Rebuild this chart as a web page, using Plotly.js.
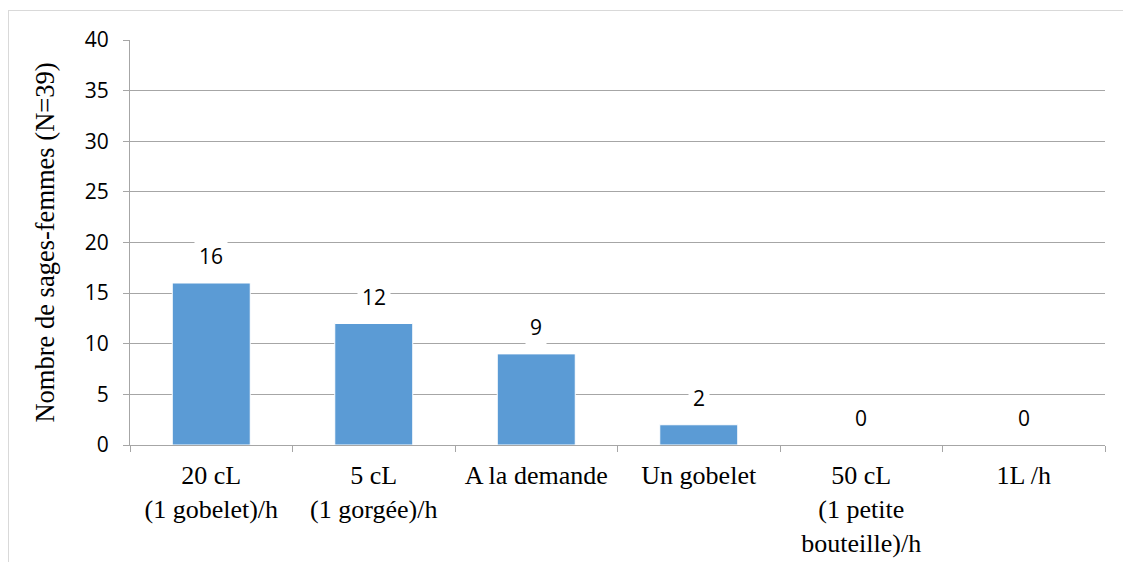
<!DOCTYPE html>
<html>
<head>
<meta charset="utf-8">
<script src="https://cdn.plot.ly/plotly-3.0.1.min.js"></script>
<style>
html,body{margin:0;padding:0;background:#fff;}
#frame{position:absolute;left:8px;top:10px;width:1130px;height:560px;border:1px solid #d9d9d9;box-sizing:border-box;pointer-events:none;}
#chart{position:absolute;left:0;top:0;width:1123px;height:562px;}
</style>
</head>
<body>
<div id="chart"></div>
<div id="frame"></div>
<script>
const categories = [
  "20 cL<br>(1 gobelet)/h",
  "5 cL<br>(1 gorgée)/h",
  "A la demande",
  "Un gobelet",
  "50 cL<br>(1 petite<br>bouteille)/h",
  "1L /h"
];
const values = [16, 12, 9, 2, 0, 0];
const yTitle = "Nombre de sages-femmes (N=39)";

const gridColor = "#A6A6A6";
const serif = "Liberation Serif, Times New Roman, serif";
const sans = "Open Sans, Liberation Sans, sans-serif";

const trace = {
  type: "bar",
  x: categories,
  y: values,
  marker: {color: "#5B9BD5", line: {color: "#ffffff", width: 1}},
  width: 0.48,
  hoverinfo: "none"
};

const annotations = categories.map((c, i) => ({
  x: c, y: values[i], xref: "x", yref: "y",
  text: String(values[i]),
  showarrow: false,
  yanchor: "middle",
  yshift: 27,
  bgcolor: "#ffffff",
  borderpad: 4,
  font: {family: sans, size: 21, color: "#000"}
}));

const layout = {
  width: 1123, height: 562,
  margin: {l: 130, r: 18, t: 40, b: 117},
  paper_bgcolor: "rgba(0,0,0,0)",
  plot_bgcolor: "#fff",
  showlegend: false,
  xaxis: {
    type: "category",
    range: [-0.5, 5.5],
    showgrid: false,
    showline: true, linecolor: gridColor, linewidth: 1,
    ticks: "outside", tickson: "boundaries", ticklen: 6, tickcolor: gridColor,
    tickfont: {family: serif, size: 26, color: "#000"},
    ticklabelstandoff: 7
  },
  yaxis: {
    range: [0, 40], dtick: 5,
    showgrid: true, gridcolor: gridColor, gridwidth: 1,
    zeroline: false,
    showline: true, linecolor: gridColor, linewidth: 1,
    ticks: "outside", ticklen: 6, tickcolor: gridColor,
    tickfont: {family: sans, size: 21, color: "#000"},
    ticklabelstandoff: 10,
    title: {text: yTitle, font: {family: serif, size: 26.5, color: "#000"}, standoff: 22}
  },
  annotations: annotations
};

Plotly.newPlot("chart", [trace], layout, {staticPlot: true});
</script>
</body>
</html>
